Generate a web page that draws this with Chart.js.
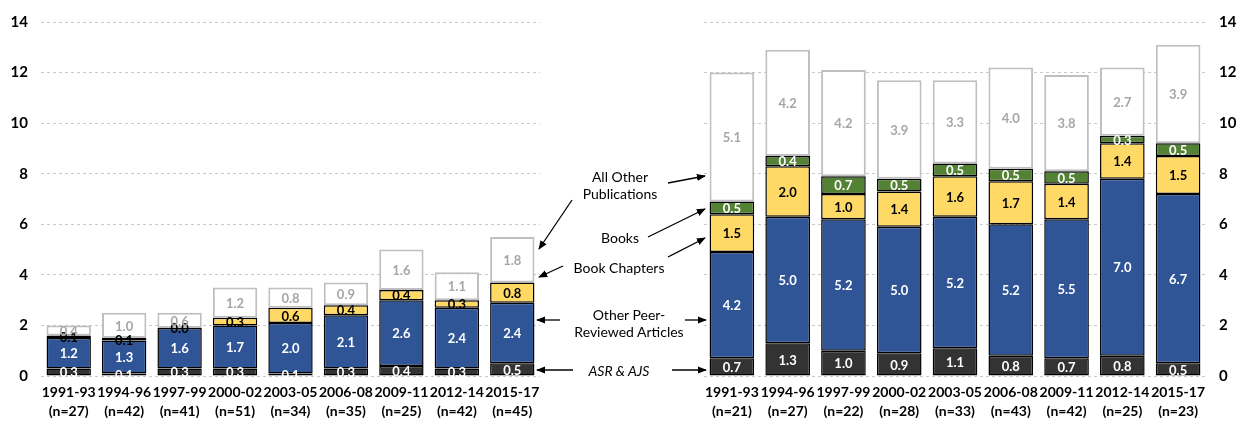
<!DOCTYPE html>
<html><head><meta charset="utf-8">
<script src="https://cdn.jsdelivr.net/npm/chart.js@4.4.0/dist/chart.umd.min.js"></script>
<style>
html,body{margin:0;padding:0;background:#fff;}
#wrap{position:relative;width:1242px;height:427px;overflow:hidden;font-family:Lato, sans-serif;}
canvas{position:absolute;top:0;}
#cl{left:0;}
#cr{left:690px;}
.ann{position:absolute;font-size:14px;color:#000;text-align:center;line-height:17px;white-space:nowrap;transform:translate(-50%,-50%);}
svg{position:absolute;left:0;top:0;}
</style></head>
<body><div id="wrap">
<canvas id="cl" width="560" height="427"></canvas>
<canvas id="cr" width="552" height="427"></canvas>
<svg width="1242" height="427">
<defs><marker id="ah" viewBox="0 0 10 10" refX="9" refY="5" markerWidth="7" markerHeight="7" orient="auto-start-reverse"><path d="M0,1 L10,5 L0,9 z" fill="#000"/></marker></defs>
<g stroke="#000" stroke-width="1.3" fill="none" marker-end="url(#ah)">
<line x1="668" y1="183" x2="705" y2="176"/>
<line x1="572" y1="200" x2="539" y2="249"/>
<line x1="648" y1="237" x2="705" y2="209"/>
<line x1="563" y1="266" x2="539" y2="277"/>
<line x1="668" y1="257" x2="705" y2="238"/>
<line x1="560" y1="320" x2="537" y2="320"/>
<line x1="685" y1="320" x2="706" y2="320"/>
<line x1="573" y1="370" x2="537" y2="370"/>
<line x1="672" y1="370" x2="706" y2="370"/>
</g>
</svg>
<div class="ann" style="left:620px;top:185px">All Other<br>Publications</div>
<div class="ann" style="left:620px;top:237px">Books</div>
<div class="ann" style="left:619px;top:267px">Book Chapters</div>
<div class="ann" style="left:629px;top:323px">Other Peer-<br>Reviewed Articles</div>
<div class="ann" style="left:619px;top:370px;font-style:italic">ASR &amp; AJS</div>
</div>
<script>
const categories = ['1991-93','1994-96','1997-99','2000-02','2003-05','2006-08','2009-11','2012-14','2015-17'];
const leftN  = [27,42,41,51,34,35,25,42,45];
const rightN = [21,27,22,28,33,43,42,25,23];
const yTicks = [0,2,4,6,8,10,12,14];

// Left panel
const leftAsrAjs   = [0.3,0.1,0.3,0.3,0.1,0.3,0.4,0.3,0.5];
const leftPeer     = [1.2,1.3,1.6,1.7,2.0,2.1,2.6,2.4,2.4];
const leftChapters = [0.1,0.1,0.0,0.3,0.6,0.4,0.4,0.3,0.8];
const leftBooks    = [null,null,null,null,null,null,null,null,null];
const leftOther    = [0.4,1.0,0.6,1.2,0.8,0.9,1.6,1.1,1.8];

// Right panel
const rightAsrAjs   = [0.7,1.3,1.0,0.9,1.1,0.8,0.7,0.8,0.5];
const rightPeer     = [4.2,5.0,5.2,5.0,5.2,5.2,5.5,7.0,6.7];
const rightChapters = [1.5,2.0,1.0,1.4,1.6,1.7,1.4,1.4,1.5];
const rightBooks    = [0.5,0.4,0.7,0.5,0.5,0.5,0.5,0.3,0.5];
const rightOther    = [5.1,4.2,4.2,3.9,3.3,4.0,3.8,2.7,3.9];

Chart.defaults.font.family = 'Lato, sans-serif';

const valueLabels = {
  id:'valueLabels',
  afterDatasetsDraw(chart){
    const ctx = chart.ctx;
    ctx.save();
    ctx.font = 'bold 13px Lato, sans-serif';
    ctx.textAlign = 'center';
    ctx.textBaseline = 'middle';
    chart.data.datasets.forEach((ds,i)=>{
      const meta = chart.getDatasetMeta(i);
      meta.data.forEach((el,j)=>{
        const v = ds.data[j];
        if (v === null || v === undefined) return;
        ctx.fillStyle = ds.labelColor;
        ctx.fillText(v.toFixed(1), el.x, (el.y + el.base)/2 + 1);
      });
    });
    ctx.restore();
  }
};

function makeDatasets(asr, peer, chap, books, other){
  const base = {borderSkipped:false, barPercentage:1, categoryPercentage:0.8};
  return [
    Object.assign({label:'ASR & AJS', data:asr, backgroundColor:'#333333', borderColor:'#000', borderWidth:1.5, labelColor:'#fff'}, base),
    Object.assign({label:'Other Peer-Reviewed Articles', data:peer, backgroundColor:'#2F5597', borderColor:'#000', borderWidth:1.5, labelColor:'#fff'}, base),
    Object.assign({label:'Book Chapters', data:chap, backgroundColor:'#FFD966', borderColor:'#000', borderWidth:1.5, labelColor:'#000'}, base),
    Object.assign({label:'Books', data:books, backgroundColor:'#548235', borderColor:'#000', borderWidth:1.5, labelColor:'#fff'}, base),
    Object.assign({label:'All Other Publications', data:other, backgroundColor:'#ffffff', borderColor:'#BFBFBF', borderWidth:2, labelColor:'#A6A6A6'}, base)
  ];
}

function makeChart(id, nVals, datasets, side){
  const labels = categories.map((c,i)=>[c, '(n=' + nVals[i] + ')']);
  return new Chart(document.getElementById(id), {
    type:'bar',
    data:{labels, datasets},
    plugins:[valueLabels],
    options:{
      responsive:false, animation:false,
      layout:{padding: side==='left' ? {left:0,right:20,top:17,bottom:0} : {left:14,right:0,top:17,bottom:0}},
      plugins:{legend:{display:false}, tooltip:{enabled:false}},
      scales:{
        x:{stacked:true, grid:{display:false, drawTicks:false}, border:{display:false},
           ticks:{color:'#000', font:{size:14, weight:'bold', lineHeight:1.36}, padding:7, maxRotation:0, autoSkip:false},
           afterFit(s){ s.height = 51; }},
        y:{stacked:true, position:side, min:0, max:14,
           afterBuildTicks(s){ s.ticks = yTicks.map(v=>({value:v})); },
           ticks:{color:'#000', font:{size:15, weight:'bold'}, padding:13},
           grid:{color:'#c8c8c8', lineWidth:1, drawTicks:false},
           border:{display:false, dash:[3,3]},
           afterFit(s){ s.width = side==='left' ? 41 : 36; }}
      }
    }
  });
}

makeChart('cl', leftN, makeDatasets(leftAsrAjs, leftPeer, leftChapters, leftBooks, leftOther), 'left');
makeChart('cr', rightN, makeDatasets(rightAsrAjs, rightPeer, rightChapters, rightBooks, rightOther), 'right');
</script>
</body></html>
